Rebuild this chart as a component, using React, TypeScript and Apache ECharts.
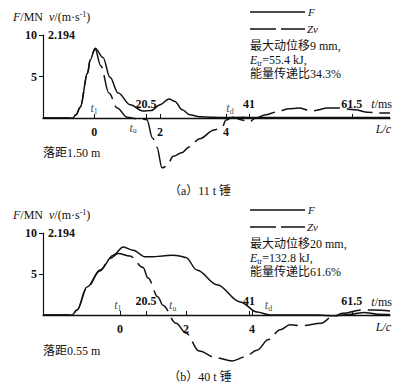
import React, { useEffect, useRef } from "react";
import * as echarts from "echarts";

const FONT = "'Liberation Serif', 'Noto Sans CJK SC', serif";
const INK = "#111";

// Panel (a) 11 t hammer
const A_F_X = [-1.55, -0.65, -0.55, -0.42, -0.2, -0.12, 0.03, 0.27, 0.48, 0.73, 1.09, 1.48, 1.73, 2.0, 2.27, 2.45, 2.67, 2.9, 3.2, 3.6, 4.0, 4.5, 5.0, 6.0, 7.0, 8.0, 8.97];
const A_F_Y = [0, 0, 0.4, 1.3, 5.4, 7.0, 8.4, 7.3, 4.9, 3.0, 1.6, 0.85, 0.9, 1.6, 2.3, 2.0, 1.0, 0.4, 0.15, 0.1, 0.05, 0.1, 0.05, 0.05, 0.05, 0.05, 0.05];
const A_ZV_X = [-1.55, -0.65, -0.55, -0.42, -0.2, -0.12, 0.03, 0.2, 0.45, 0.7, 1.0, 1.3, 1.6, 1.77, 1.9, 2.06, 2.2, 2.4, 2.65, 2.88, 3.2, 3.64, 3.88, 4.0, 4.2, 4.45, 4.7, 4.9, 5.2, 5.5, 5.9, 6.2, 6.6, 7.1, 7.4, 7.9, 8.3, 8.6, 8.97];
const A_ZV_Y = [0, 0, 0.4, 1.3, 5.4, 7.0, 8.3, 6.3, 3.0, 1.2, 0.1, -0.1, -0.2, -2.4, -3.5, -6.0, -5.8, -4.6, -4.2, -3.5, -2.5, -1.45, -1.1, -0.25, 0.1, -0.2, -0.5, 0.0, 0.4, 0.7, 1.1, 1.2, 0.85, 1.2, 1.2, 1.0, 0.7, 0.6, 0.6];

// Panel (b) 40 t hammer
const B_F_X = [-2.33, -1.45, -1.3, -1.0, -0.6, -0.2, 0.1, 0.4, 0.76, 1.0, 1.3, 1.6, 1.8, 2.0, 2.33, 2.94, 3.64, 4.15, 4.55, 5.0, 6.0, 6.5, 7.0, 7.4, 7.8, 8.18];
const B_F_Y = [0, 0, 0.6, 3.4, 5.5, 7.3, 8.3, 7.9, 7.1, 7.1, 7.2, 7.3, 7.2, 7.0, 5.5, 3.7, 1.6, 0.37, 0.0, 0.0, 0.0, -0.1, 0.1, 0.3, 0.1, 0.05];
const B_ZV_X = [-2.33, -1.45, -1.3, -1.0, -0.6, -0.3, -0.05, 0.3, 0.7, 0.85, 1.15, 1.3, 1.7, 2.0, 2.4, 2.9, 3.4, 3.8, 4.15, 4.5, 4.85, 5.15, 5.5, 6.1, 6.4, 6.75, 7.3, 7.7, 8.18];
const B_ZV_Y = [0, 0, 0.6, 3.3, 5.4, 6.9, 7.5, 7.2, 5.8, 4.5, 2.2, 1.2, -1.0, -2.2, -4.4, -5.2, -5.6, -5.1, -4.3, -3.0, -1.8, -1.2, -1.3, -1.0, -0.3, 0.2, 0.6, 0.6, 0.5];

// Axis ticks / labels
const LC_TICKS = [0, 2, 4];
const MS_TICKS = [20.5, 41, 61.5];
const Y_TICKS = [5, 10];
const A_LC_RANGE = [-1.55, 8.97];
const B_LC_RANGE = [-2.33, 8.18];
const MS_RANGE = [0, 69.1];

// Characteristic instants (L/c) and label side
const A_MARKS = [
  { x: 0, sub: "1", pos: "top" },
  { x: 1.18, sub: "u", pos: "bottom" },
  { x: 4.12, sub: "d", pos: "top" },
];
const B_MARKS = [
  { x: -0.06, sub: "1", pos: "top" },
  { x: 1.6, sub: "u", pos: "top" },
  { x: 4.5, sub: "d", pos: "top" },
];

const zip = (xs: number[], ys: number[]) => xs.map((x, i) => [x, ys[i]]);

const RICH = {
  i: { fontFamily: FONT, fontStyle: "italic", fontSize: 12, color: INK },
  n: { fontFamily: FONT, fontSize: 12, color: INK },
  s: { fontFamily: FONT, fontSize: 8, color: INK, verticalAlign: "bottom", padding: [6, 0, 0, 0] },
  sup: { fontFamily: FONT, fontSize: 8, color: INK, verticalAlign: "top", padding: [0, 0, 5, 0] },
};

function lcAxis(grid: number, range: number[]) {
  return {
    type: "value",
    gridIndex: grid,
    min: range[0],
    max: range[1],
    position: "bottom",
    axisLine: { show: true, lineStyle: { color: INK, width: 1.3 } },
    axisTick: { show: true, inside: true, length: 4, customValues: LC_TICKS, lineStyle: { color: INK } },
    axisLabel: { show: true, customValues: LC_TICKS, margin: 8, color: INK, fontFamily: FONT, fontSize: 12, fontWeight: "bold" },
    splitLine: { show: false },
  };
}
function msAxis(grid: number) {
  return {
    type: "value",
    gridIndex: grid,
    min: MS_RANGE[0],
    max: MS_RANGE[1],
    position: "bottom",
    axisLine: { show: false },
    axisTick: { show: true, inside: true, length: 4, customValues: MS_TICKS, lineStyle: { color: INK } },
    axisLabel: { show: true, inside: true, customValues: MS_TICKS, margin: 8, color: INK, fontFamily: FONT, fontSize: 12, fontWeight: "bold" },
    splitLine: { show: false },
  };
}
function yAxis(grid: number) {
  return {
    type: "value",
    gridIndex: grid,
    min: 0,
    max: 10,
    axisLine: { show: true, onZero: false, lineStyle: { color: INK, width: 1.2 } },
    axisTick: { show: true, length: 4, customValues: Y_TICKS, lineStyle: { color: INK } },
    axisLabel: { show: true, customValues: Y_TICKS, margin: 6, color: INK, fontFamily: FONT, fontSize: 12, fontWeight: "bold" },
    splitLine: { show: false },
  };
}
function curve(xi: number, yi: number, xs: number[], ys: number[], dashed: boolean) {
  return {
    type: "line",
    xAxisIndex: xi,
    yAxisIndex: yi,
    data: zip(xs, ys),
    symbol: "none",
    smooth: 0.35,
    smoothMonotone: "x",
    clip: false,
    silent: true,
    lineStyle: { color: INK, width: 1.5, type: dashed ? [26, 7] : "solid" },
  };
}
function marks(xi: number, yi: number, list: { x: number; sub: string; pos: string }[]) {
  return {
    type: "scatter",
    xAxisIndex: xi,
    yAxisIndex: yi,
    symbolSize: 0,
    clip: false,
    silent: true,
    data: list.map((m) => ({
      value: [m.x, 0],
      label: { show: true, position: m.pos, distance: 3, formatter: `{i|t}{s|${m.sub}}`, rich: RICH },
    })),
  };
}

function panelGraphics(dy: number, info: string[], drop: string, caption: string, captionY: number) {
  const t = (x: number, y: number, text: string, extra: any = {}) => ({
    type: "text",
    x,
    y: y + dy,
    style: {
      text,
      fill: INK,
      fontFamily: FONT,
      fontSize: 12,
      textAlign: "left",
      textVerticalAlign: "middle",
      align: "left",
      verticalAlign: "middle",
      rich: RICH,
      ...extra,
    },
  });
  return [
    t(13, 17, "{i|F}{n|/MN  }{i|v}{n|/(m·s}{sup|-1}{n|)}"),
    t(48, 35, "2.194", { fontWeight: "bold" }),
    { type: "line", shape: { x1: 250, y1: 12 + dy, x2: 305, y2: 12 + dy }, style: { stroke: INK, lineWidth: 1.3 } },
    t(308, 12, "F", { fontStyle: "italic", fontSize: 11 }),
    { type: "line", shape: { x1: 250, y1: 29 + dy, x2: 305, y2: 29 + dy }, style: { stroke: INK, lineWidth: 1.3, lineDash: [26, 5] } },
    t(307, 29, "Zv", { fontStyle: "italic", fontSize: 11 }),
    t(250, 46, info[0]),
    t(250, 60, info[1]),
    t(250, 74, info[2]),
    t(43, 153, drop),
    t(392, 104, "{i|t}{n|/ms}", { textAlign: "right", align: "right" }),
    t(391, 129, "{i|L/c}", { textAlign: "right", align: "right" }),
    {
      type: "text",
      x: 200,
      y: captionY,
      style: {
        text: caption,
        fill: INK,
        fontFamily: FONT,
        fontSize: 12,
        textAlign: "center",
        textVerticalAlign: "middle",
        align: "center",
        verticalAlign: "middle",
      },
    },
  ];
}

export default function App() {
  const ref = useRef<HTMLDivElement>(null);
  useEffect(() => {
    document.body.style.margin = "0";
    if (!ref.current) return;
    const chart = echarts.init(ref.current, null, { renderer: "svg" });
    chart.setOption({
      animation: false,
      backgroundColor: "#fff",
      grid: [
        { left: 43, top: 35, width: 347, height: 83 },
        { left: 43, top: 233, width: 347, height: 82 },
      ],
      xAxis: [lcAxis(0, A_LC_RANGE), msAxis(0), lcAxis(1, B_LC_RANGE), msAxis(1)],
      yAxis: [yAxis(0), yAxis(1)],
      series: [
        curve(0, 0, A_F_X, A_F_Y, false),
        curve(0, 0, A_ZV_X, A_ZV_Y, true),
        marks(0, 0, A_MARKS),
        curve(2, 1, B_F_X, B_F_Y, false),
        curve(2, 1, B_ZV_X, B_ZV_Y, true),
        marks(2, 1, B_MARKS),
      ],
      graphic: [
        ...panelGraphics(0, ["最大动位移9 mm,", "{i|E}{s|tr}{n|=55.4 kJ,}", "能量传递比34.3%"], "落距1.50 m", "（a）11 t 锤", 191),
        ...panelGraphics(198, ["最大动位移20 mm,", "{i|E}{s|tr}{n|=132.8 kJ,}", "能量传递比61.6%"], "落距0.55 m", "（b）40 t 锤", 377),
      ],
    });
    return () => chart.dispose();
  }, []);
  return <div ref={ref} style={{ width: 416, height: 389 }} />;
}
